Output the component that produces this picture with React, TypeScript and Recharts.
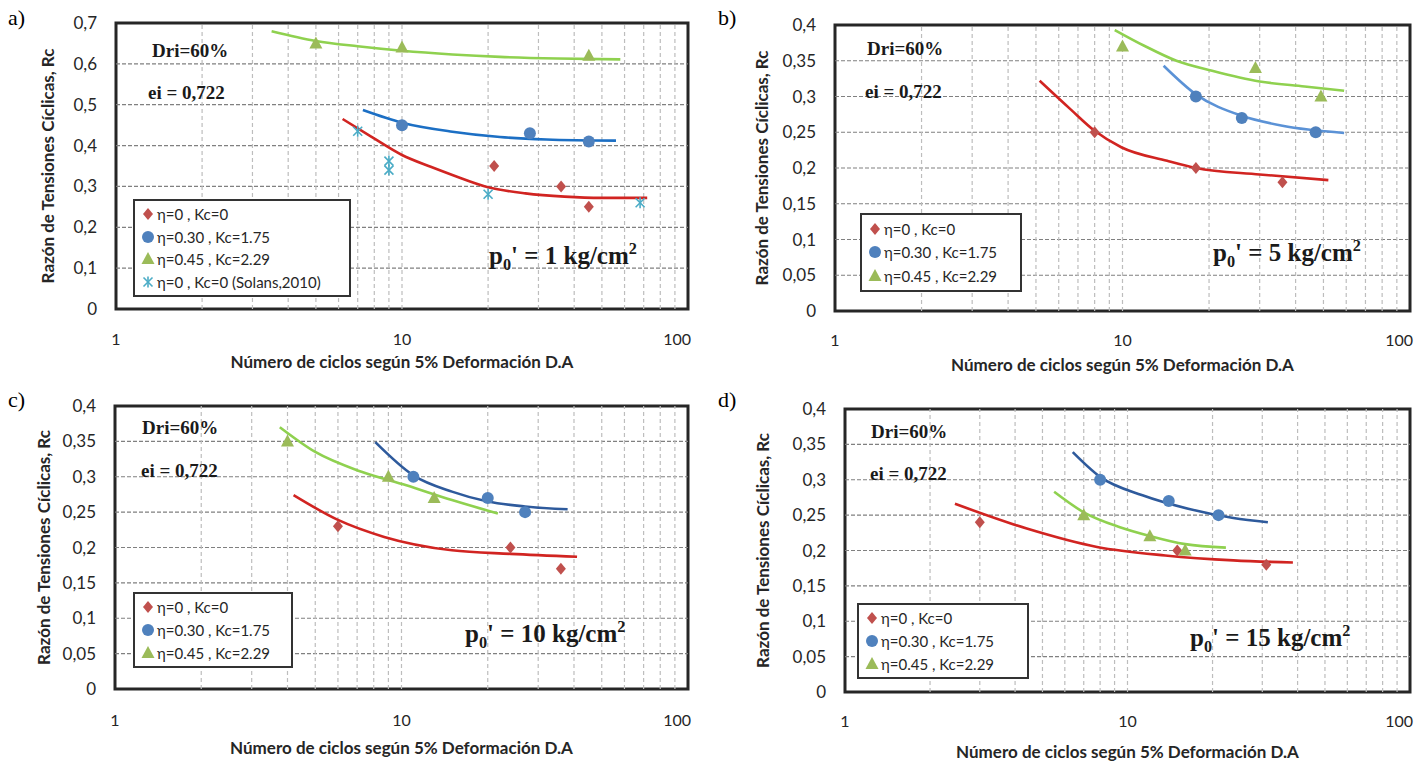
import React from 'react'
import { ComposedChart, Scatter, Line, XAxis, YAxis, ReferenceLine, ReferenceArea, Legend } from 'recharts'

type Pt = { n: number; rc: number }

// ── ejes ──
const xTicks = [1, 10, 100]
const xGridValues = [2, 3, 4, 5, 6, 7, 8, 9, 10, 20, 30, 40, 50, 60, 70, 80, 90]
const yTicksA = [0, 0.1, 0.2, 0.3, 0.4, 0.5, 0.6, 0.7]
const yTicksBCD = [0, 0.05, 0.1, 0.15, 0.2, 0.25, 0.3, 0.35, 0.4]

const xTitle = 'Número de ciclos según 5% Deformación D.A'
const yTitle = 'Razón  de Tensiones Cíclicas, Rc'
const legendLabels = ['η=0 , Kc=0', 'η=0.30 , Kc=1.75', 'η=0.45 , Kc=2.29', 'η=0 , Kc=0 (Solans,2010)']
const pressures = ['1', '5', '10', '15']

// ── a) p0' = 1 ──
const aRed: Pt[] = [{ n: 21, rc: 0.35 }, { n: 36, rc: 0.3 }, { n: 45, rc: 0.25 }]
const aBlue: Pt[] = [{ n: 10, rc: 0.45 }, { n: 28, rc: 0.43 }, { n: 45, rc: 0.41 }]
const aGreen: Pt[] = [{ n: 5, rc: 0.65 }, { n: 10, rc: 0.64 }, { n: 45, rc: 0.62 }]
const aCyan: Pt[] = [{ n: 7, rc: 0.435 }, { n: 9, rc: 0.362 }, { n: 9, rc: 0.34 }, { n: 20, rc: 0.281 }, { n: 68, rc: 0.26 }]
const aRedFit: Pt[] = [
  { n: 6.2, rc: 0.465 }, { n: 7.8, rc: 0.422 }, { n: 10, rc: 0.377 }, { n: 12.6, rc: 0.348 }, { n: 15, rc: 0.328 },
  { n: 20, rc: 0.298 }, { n: 27, rc: 0.283 }, { n: 37, rc: 0.275 }, { n: 50, rc: 0.272 }, { n: 72, rc: 0.272 },
]
const aBlueFit: Pt[] = [
  { n: 7.3, rc: 0.487 }, { n: 10, rc: 0.456 }, { n: 15, rc: 0.434 }, { n: 22, rc: 0.421 }, { n: 32, rc: 0.415 }, { n: 56, rc: 0.412 },
]
const aGreenFit: Pt[] = [
  { n: 3.5, rc: 0.68 }, { n: 5, rc: 0.656 }, { n: 7, rc: 0.643 }, { n: 10, rc: 0.632 }, { n: 15, rc: 0.623 },
  { n: 22, rc: 0.617 }, { n: 35, rc: 0.613 }, { n: 58, rc: 0.611 },
]

// ── b) p0' = 5 ──
const bRed: Pt[] = [{ n: 8, rc: 0.25 }, { n: 18, rc: 0.2 }, { n: 36, rc: 0.18 }]
const bBlue: Pt[] = [{ n: 18, rc: 0.3 }, { n: 26, rc: 0.27 }, { n: 47, rc: 0.25 }]
const bGreen: Pt[] = [{ n: 10, rc: 0.37 }, { n: 29, rc: 0.34 }, { n: 49, rc: 0.3 }]
const bRedFit: Pt[] = [
  { n: 5.15, rc: 0.322 }, { n: 6.6, rc: 0.282 }, { n: 8, rc: 0.252 }, { n: 9.9, rc: 0.229 }, { n: 14.3, rc: 0.21 },
  { n: 18, rc: 0.2 }, { n: 30, rc: 0.191 }, { n: 52, rc: 0.183 },
]
const bBlueFit: Pt[] = [{ n: 13.9, rc: 0.343 }, { n: 18, rc: 0.303 }, { n: 26, rc: 0.273 }, { n: 36, rc: 0.259 }, { n: 59, rc: 0.249 }]
const bGreenFit: Pt[] = [
  { n: 9.4, rc: 0.393 }, { n: 11.9, rc: 0.371 }, { n: 15.4, rc: 0.35 }, { n: 20.5, rc: 0.336 }, { n: 30, rc: 0.321 },
  { n: 43, rc: 0.314 }, { n: 59, rc: 0.308 },
]

// ── c) p0' = 10 ──
const cRed: Pt[] = [{ n: 6, rc: 0.23 }, { n: 24, rc: 0.2 }, { n: 36, rc: 0.17 }]
const cBlue: Pt[] = [{ n: 11, rc: 0.3 }, { n: 20, rc: 0.27 }, { n: 27, rc: 0.25 }]
const cGreen: Pt[] = [{ n: 4, rc: 0.35 }, { n: 9, rc: 0.3 }, { n: 13, rc: 0.27 }]
const cRedFit: Pt[] = [{ n: 4.2, rc: 0.274 }, { n: 6, rc: 0.239 }, { n: 8.7, rc: 0.215 }, { n: 15, rc: 0.196 }, { n: 24, rc: 0.191 }, { n: 41, rc: 0.187 }]
const cBlueFit: Pt[] = [{ n: 8.1, rc: 0.349 }, { n: 11, rc: 0.302 }, { n: 15, rc: 0.279 }, { n: 20, rc: 0.265 }, { n: 27, rc: 0.258 }, { n: 38, rc: 0.254 }]
const cGreenFit: Pt[] = [{ n: 3.76, rc: 0.37 }, { n: 5, rc: 0.335 }, { n: 7.25, rc: 0.307 }, { n: 10.4, rc: 0.288 }, { n: 15, rc: 0.267 }, { n: 21.7, rc: 0.248 }]

// ── d) p0' = 15 ──
const dRed: Pt[] = [{ n: 3, rc: 0.24 }, { n: 15, rc: 0.2 }, { n: 31, rc: 0.18 }]
const dBlue: Pt[] = [{ n: 8, rc: 0.3 }, { n: 14, rc: 0.27 }, { n: 21, rc: 0.25 }]
const dGreen: Pt[] = [{ n: 7, rc: 0.25 }, { n: 12, rc: 0.22 }, { n: 16, rc: 0.2 }]
const dRedFit: Pt[] = [{ n: 2.45, rc: 0.266 }, { n: 4.4, rc: 0.231 }, { n: 7.8, rc: 0.205 }, { n: 13.6, rc: 0.193 }, { n: 23.7, rc: 0.186 }, { n: 38.5, rc: 0.183 }]
const dBlueFit: Pt[] = [{ n: 6.4, rc: 0.339 }, { n: 8, rc: 0.304 }, { n: 11.3, rc: 0.278 }, { n: 16.4, rc: 0.259 }, { n: 23.7, rc: 0.246 }, { n: 31.4, rc: 0.24 }]
const dGreenFit: Pt[] = [{ n: 5.5, rc: 0.283 }, { n: 7, rc: 0.254 }, { n: 9.4, rc: 0.233 }, { n: 11.9, rc: 0.221 }, { n: 16, rc: 0.209 }, { n: 22.3, rc: 0.204 }]

const RED = '#C0504D'
const BLUE = '#4F81BD'
const GREEN = '#9BBB59'
const CYAN = '#4BACC6'
const RED_FIT = '#D12421'
const GREEN_FIT = '#8FD14F'

const SANS = 'Lato, "Open Sans", sans-serif'
const SERIF = '"Liberation Serif", "DejaVu Serif", serif'

type Kind = 'diamond' | 'circle' | 'triangle' | 'star'
const kinds: Kind[] = ['diamond', 'circle', 'triangle', 'star']

function Marker({ kind, cx, cy }: { kind: Kind; cx: number; cy: number }) {
  if (kind === 'diamond')
    return <polygon points={`${cx},${cy - 6} ${cx + 5},${cy} ${cx},${cy + 6} ${cx - 5},${cy}`} fill={RED} />
  if (kind === 'circle') return <circle cx={cx} cy={cy} r={6} fill={BLUE} />
  if (kind === 'triangle')
    return <polygon points={`${cx},${cy - 7} ${cx + 6.5},${cy + 5} ${cx - 6.5},${cy + 5}`} fill={GREEN} />
  return (
    <g stroke={CYAN} strokeWidth={1.6}>
      <line x1={cx - 4.5} y1={cy - 4.5} x2={cx + 4.5} y2={cy + 4.5} />
      <line x1={cx - 4.5} y1={cy + 4.5} x2={cx + 4.5} y2={cy - 4.5} />
      <line x1={cx} y1={cy - 5.5} x2={cx} y2={cy + 5.5} />
    </g>
  )
}

const XTick = (props: any) => {
  const { x, y, payload } = props
  const last = payload.value === 100
  return (
    <text x={last ? x + 3 : x} y={y} dy="0.71em" textAnchor={last ? 'end' : 'middle'} fontSize={16} fill="#262626" fontFamily={SANS}>
      {payload.value}
    </text>
  )
}

const fmtY = (v: number) => (v === 0 ? '0' : String(v).replace('.', ','))

interface PanelCfg {
  left: number
  top: number
  letter: string
  frame: { l: number; r: number; t: number; b: number }
  yMax: number
  yTicks: number[]
  pts: Pt[][]
  fits: { pts: Pt[]; color: string }[]
  pressure: string
  tickGap: number
  titleGap: number
  yTitleX: number
  legend: { x: number; y: number; w: number; h: number }
  dri: { x: number; y: number }
  ei: { x: number; y: number }
  p0: { x: number; y: number }
}

const panels: PanelCfg[] = [
  {
    left: 0, top: 0, letter: 'a)', frame: { l: 116, r: 688, t: 23, b: 309 }, yMax: 0.7, yTicks: yTicksA,
    pts: [aRed, aBlue, aGreen, aCyan],
    fits: [{ pts: aGreenFit, color: GREEN_FIT }, { pts: aBlueFit, color: '#1C6FC4' }, { pts: aRedFit, color: RED_FIT }],
    pressure: pressures[0], tickGap: 31, titleGap: 53, yTitleX: 48,
    legend: { x: 133, y: 199, w: 218, h: 98 }, dri: { x: 152, y: 50 }, ei: { x: 148, y: 92 }, p0: { x: 489, y: 257 },
  },
  {
    left: 710, top: 0, letter: 'b)', frame: { l: 125, r: 700, t: 25, b: 311 }, yMax: 0.4, yTicks: yTicksBCD,
    pts: [bRed, bBlue, bGreen],
    fits: [{ pts: bGreenFit, color: GREEN_FIT }, { pts: bBlueFit, color: '#5B92D6' }, { pts: bRedFit, color: RED_FIT }],
    pressure: pressures[1], tickGap: 30, titleGap: 54, yTitleX: 52,
    legend: { x: 150, y: 213, w: 162, h: 79 }, dri: { x: 157, y: 48 }, ei: { x: 155, y: 91 }, p0: { x: 503, y: 254 },
  },
  {
    left: 0, top: 382, letter: 'c)', frame: { l: 115, r: 688, t: 24, b: 307 }, yMax: 0.4, yTicks: yTicksBCD,
    pts: [cRed, cBlue, cGreen],
    fits: [{ pts: cGreenFit, color: GREEN_FIT }, { pts: cBlueFit, color: '#2E5A9C' }, { pts: cRedFit, color: RED_FIT }],
    pressure: pressures[2], tickGap: 32, titleGap: 59, yTitleX: 44,
    legend: { x: 133, y: 210, w: 160, h: 76 }, dri: { x: 142, y: 45 }, ei: { x: 141, y: 88 }, p0: { x: 465, y: 253 },
  },
  {
    left: 710, top: 382, letter: 'd)', frame: { l: 135, r: 700, t: 27, b: 310 }, yMax: 0.4, yTicks: yTicksBCD,
    pts: [dRed, dBlue, dGreen],
    fits: [{ pts: dGreenFit, color: GREEN_FIT }, { pts: dBlueFit, color: '#2E5A9C' }, { pts: dRedFit, color: RED_FIT }],
    pressure: pressures[3], tickGap: 30, titleGap: 60, yTitleX: 53,
    legend: { x: 147, y: 221, w: 172, h: 76 }, dri: { x: 161, y: 49 }, ei: { x: 160, y: 91 }, p0: { x: 480, y: 257 },
  },
]

const titleStyle = { fontFamily: SANS, fontSize: 17, fontWeight: 700, fill: '#262626' }

function LegendBox({ count, w, h }: { count: number; w: number; h: number }) {
  return (
    <div
      style={{
        width: w, height: h, boxSizing: 'border-box', border: '2px solid #333', background: '#fff',
        display: 'flex', flexDirection: 'column', justifyContent: 'space-around', padding: '2px 0 2px 6px',
        fontFamily: SANS, fontSize: 15, color: '#262626',
      }}
    >
      {legendLabels.slice(0, count).map((label, i) => (
        <div key={label} style={{ display: 'flex', alignItems: 'center', whiteSpace: 'nowrap', lineHeight: '18px' }}>
          <svg width={14} height={14} style={{ marginRight: 2 }}>
            <Marker kind={kinds[i]} cx={7} cy={7} />
          </svg>
          {label}
        </div>
      ))}
    </div>
  )
}

const annot = (x: number, y: number, size: number): React.CSSProperties => ({
  position: 'absolute', left: x, top: y, transform: 'translateY(-50%)', fontFamily: SERIF, fontWeight: 700,
  fontSize: size, lineHeight: 1, color: '#1a1a1a', whiteSpace: 'nowrap',
})

function Panel({ p }: { p: PanelCfg }) {
  const W = 710
  const H = 382
  const YW = 100
  const XH = 70
  const margin = { top: p.frame.t, right: W - p.frame.r, left: p.frame.l - YW, bottom: H - p.frame.b - XH }
  return (
    <div style={{ position: 'absolute', left: p.left, top: p.top, width: W, height: H }}>
      <ComposedChart width={W} height={H} margin={margin}>
        <XAxis
          type="number" dataKey="n" scale="log" domain={[1, 100]} allowDataOverflow ticks={xTicks} interval={0}
          tick={<XTick />} tickLine={false} axisLine={false} tickSize={0} tickMargin={p.tickGap - 6} height={XH}
          label={{ value: xTitle, position: 'insideBottom', offset: XH - p.titleGap - 6, style: titleStyle }}
        />
        <YAxis
          type="number" dataKey="rc" domain={[0, p.yMax]} allowDataOverflow ticks={p.yTicks} interval={0}
          tickFormatter={fmtY} tickLine={false} axisLine={false} tickSize={0} tickMargin={19} width={YW}
          tick={{ fontSize: 17, fill: '#262626', fontFamily: SANS }}
          label={{
            value: yTitle, angle: -90, position: 'insideLeft', offset: p.yTitleX - (p.frame.l - YW),
            style: { ...titleStyle, textAnchor: 'middle' },
          }}
        />
        {p.yTicks.slice(1, -1).map((v) => (
          <ReferenceLine key={'h' + v} y={v} stroke="#808080" strokeWidth={1.2} strokeDasharray="4 2" />
        ))}
        {xGridValues.map((v) => (
          <ReferenceLine key={'v' + v} x={v} stroke="#bdbdbd" strokeWidth={1.2} strokeDasharray="4 3" />
        ))}
        {p.pts.map((pts, i) => (
          <Scatter
            key={'s' + i} data={pts} dataKey="rc" isAnimationActive={false}
            shape={(sp: any) => <Marker kind={kinds[i]} cx={sp.cx} cy={sp.cy} />}
          />
        ))}
        {p.fits.map((f, i) => (
          <Line
            key={'f' + i} data={f.pts} dataKey="rc" type="monotone" stroke={f.color} strokeWidth={2.6}
            dot={false} activeDot={false} isAnimationActive={false}
          />
        ))}
        <ReferenceArea x1={1} x2={100} y1={0} y2={p.yMax} fill="none" stroke="#262626" strokeWidth={3} ifOverflow="visible" />
        <Legend
          layout="vertical" align="center" verticalAlign="middle"
          wrapperStyle={{ left: p.legend.x, top: p.legend.y, width: p.legend.w, height: p.legend.h }}
          content={() => <LegendBox count={p.pts.length} w={p.legend.w} h={p.legend.h} />}
        />
      </ComposedChart>
      <div style={{ position: 'absolute', left: 8, top: 18, transform: 'translateY(-50%)', fontFamily: SERIF, fontSize: 22, lineHeight: 1 }}>
        {p.letter}
      </div>
      <div style={annot(p.dri.x, p.dri.y, 19)}>Dri=60%</div>
      <div style={annot(p.ei.x, p.ei.y, 19)}>ei = 0,722</div>
      <div style={annot(p.p0.x, p.p0.y, 25)}>
        p<sub style={{ fontSize: '0.65em' }}>0</sub>' = {p.pressure} kg/cm<sup style={{ fontSize: '0.65em' }}>2</sup>
      </div>
    </div>
  )
}

export default function App() {
  return (
    <div style={{ position: 'fixed', left: 0, top: 0, width: 1420, height: 764, background: '#fff', overflow: 'hidden' }}>
      {panels.map((p) => (
        <Panel key={p.letter} p={p} />
      ))}
    </div>
  )
}
